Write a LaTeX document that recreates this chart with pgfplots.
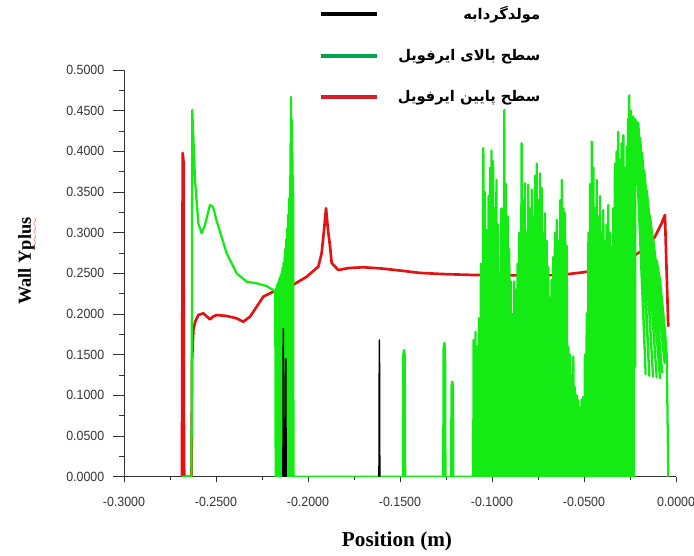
\documentclass[border=0pt]{standalone}
\usepackage{fontspec}
\usepackage{pgfplots}
\pgfplotsset{compat=1.18}
\TeXXeTstate=1
\newfontfamily\tickfont[FakeStretch=0.93]{Liberation Sans}
\newfontfamily\labelfont{Liberation Serif}
\newfontfamily\arabicfont[Script=Arabic]{DejaVu Sans}
\definecolor{plotgreen}{RGB}{20,235,20}
\definecolor{plotred}{RGB}{228,18,18}
\definecolor{leggreen}{RGB}{0,165,80}
\definecolor{legred}{RGB}{215,30,40}
% spell-checker style red wavy underline
\font\sixly=lasy6
\newcommand\redwave[1]{\leavevmode\begingroup\setbox0\hbox{#1}%
  \rlap{\textcolor{red}{\lower4.5pt\hbox to \wd0{\xleaders\hbox{\sixly\char58}\hfil}}}\box0\endgroup}
\begin{document}
\begin{tikzpicture}[x=0.75pt,y=0.75pt]
\begin{axis}[
  scale only axis, width=414pt, height=305pt,
  xmin=-0.3, xmax=0, ymin=0, ymax=0.5,
  axis lines*=left,
  axis line style={black!80, line width=0.6pt},
  tick align=outside,
  xtick={-0.3,-0.25,-0.2,-0.15,-0.1,-0.05,0},
  ytick={0,0.05,0.1,0.15,0.2,0.25,0.3,0.35,0.4,0.45,0.5},
  minor tick num=1,
  scaled ticks=false,
  xtick style={black!80, line width=0.6pt, /pgfplots/major tick length=4.3pt, /pgfplots/minor tick length=2.5pt},
  ytick style={black!80, line width=0.6pt, /pgfplots/major tick length=8pt, /pgfplots/minor tick length=3.5pt},
  ticklabel style={font=\tickfont\fontsize{10}{12}\selectfont, text=black!80,
    /pgf/number format/fixed, /pgf/number format/fixed zerofill,
    /pgf/number format/precision=4, /pgf/number format/assume math mode=true},
  xticklabel style={yshift=-7.5pt},
  yticklabel style={xshift=-7pt},
  xlabel={Position (m)},
  ylabel={Wall Y\redwave{plus}},
  xlabel style={font=\labelfont\bfseries\fontsize{15.9}{18}\selectfont,
    at={(axis description cs:0.4946,-0.158)}, anchor=center},
  ylabel style={font=\labelfont\bfseries\fontsize{13.8}{16}\selectfont,
    at={(axis description cs:-0.1748,0.530)}, anchor=center},
  legend style={at={(axis description cs:0.3533,1.165)}, anchor=north west,
    draw=none, fill=none, inner sep=0pt,
    font=\arabicfont\bfseries\fontsize{11}{13}\selectfont,
    row sep=17pt,
    /tikz/every odd column/.append style={column sep=12pt}},
  legend cell align=right,
  legend image code/.code={\draw[#1] (0pt,0pt) -- (42pt,0pt);},
  unbounded coords=jump,
]
\addlegendimage{black, line width=3pt}
\addlegendentry{\beginR مولدگردابه\endR}
\addlegendimage{leggreen, line width=3pt}
\addlegendentry{\beginR سطح بالای ایرفویل\endR}
\addlegendimage{legred, line width=3pt}
\addlegendentry{\beginR سطح پایین ایرفویل\endR}

% lower surface
\addplot[plotred, line width=2pt, line join=round, forget plot] coordinates {
(-0.2685,0) (-0.2681,0.398) (-0.2677,0.388) (-0.2674,0.02) (-0.2672,0)
(-0.2633,0) (-0.2630,0.1435) (-0.2623,0.180) (-0.2614,0.190) (-0.2596,0.1988)
(-0.2569,0.2009) (-0.2550,0.197) (-0.2533,0.1935) (-0.2515,0.197) (-0.2496,0.1988)
(-0.2442,0.1976) (-0.2388,0.1947) (-0.2352,0.1906) (-0.2315,0.1967) (-0.2279,0.2090)
(-0.2243,0.2213) (-0.2189,0.2274) (-0.2098,0.2336) (-0.2007,0.2459) (-0.1944,0.2582)
(-0.1926,0.2747) (-0.1912,0.305) (-0.1902,0.330) (-0.1892,0.305) (-0.1880,0.2828)
(-0.1871,0.2624) (-0.1835,0.2541) (-0.1780,0.2565) (-0.1700,0.2575) (-0.1600,0.2560)
(-0.1500,0.2535) (-0.1390,0.2505) (-0.1250,0.2490) (-0.1100,0.2480) (-0.0950,0.2475)
(-0.0800,0.2475) (-0.0630,0.2480) (-0.0522,0.2508) (-0.0485,0.2520) (-0.0359,0.2582)
(-0.0268,0.2664) (-0.0178,0.2787) (-0.0114,0.2951) (-0.0078,0.3115) (-0.0060,0.3217)
(-0.0042,0.1844)
};

% upper surface
\addplot[plotgreen, line width=1.7pt, line join=round, forget plot] coordinates {
(-0.2686,0) (-0.2633,0) (-0.2630,0.30) (-0.2629,0.451) (-0.2614,0.365) (-0.2596,0.3115)
(-0.2578,0.2992) (-0.2560,0.3094) (-0.2533,0.3340) (-0.2516,0.3316) (-0.2496,0.3143)
(-0.2442,0.2747) (-0.2388,0.2501) (-0.2333,0.2397) (-0.2279,0.2378) (-0.2225,0.2344)
(-0.2189,0.2295)
(-0.2178,0.228) (-0.21755,0) (-0.2173,0.232) (-0.21705,0) (-0.2168,0.236) (-0.21655,0)
(-0.2163,0.238) (-0.21605,0) (-0.2158,0.242) (-0.21555,0) (-0.2153,0.245) (-0.21505,0)
(-0.2148,0.248) (-0.21455,0) (-0.2143,0.252) (-0.21405,0) (-0.2138,0.257) (-0.21355,0)
(-0.2133,0.263) (-0.21305,0) (-0.2128,0.270) (-0.21255,0) (-0.2123,0.280) (-0.21205,0)
(-0.2118,0.292) (-0.21155,0) (-0.2113,0.305) (-0.21105,0) (-0.2108,0.322) (-0.21055,0)
(-0.2103,0.342) (-0.21005,0) (-0.2098,0.370) (-0.20965,0) (-0.2095,0.410) (-0.20935,0)
(-0.2092,0.467) (-0.20905,0) (-0.2089,0.440) (-0.20870,0) (-0.2085,0.400) (-0.20830,0)
(-0.2081,0.370) (-0.2079,0)
(-0.1484,0) (-0.1482,0.150) (-0.1478,0.1558) (-0.1474,0.150) (-0.1472,0)
(-0.1265,0) (-0.1263,0.158) (-0.1259,0.1644) (-0.1255,0.158) (-0.1253,0)
(-0.1222,0) (-0.1220,0.112) (-0.1216,0.1168) (-0.1212,0.112) (-0.1210,0)
(-0.1102,0)
(-0.1100,0.168) (-0.1095,0) (-0.1090,0.178) (-0.1085,0) (-0.1080,0.160) (-0.1075,0)
(-0.1070,0.195) (-0.1065,0) (-0.1060,0.262) (-0.1054,0) (-0.1047,0.404) (-0.1042,0)
(-0.1038,0.350) (-0.1033,0) (-0.1029,0.303) (-0.1024,0) (-0.1019,0.345) (-0.1014,0)
(-0.1010,0.380) (-0.1006,0) (-0.1003,0.401) (-0.0998,0) (-0.0994,0.388) (-0.0989,0)
(-0.0985,0.330) (-0.0980,0) (-0.0976,0.365) (-0.0971,0) (-0.0967,0.310) (-0.0962,0)
(-0.0958,0.250) (-0.0953,0) (-0.0949,0.330) (-0.0945,0) (-0.0941,0.300) (-0.0937,0)
(-0.0933,0.451) (-0.0928,0) (-0.0924,0.360) (-0.0919,0) (-0.0915,0.320) (-0.0910,0)
(-0.0906,0.280) (-0.0901,0) (-0.0897,0.240) (-0.0892,0) (-0.0888,0.200) (-0.0883,0)
(-0.0879,0.240) (-0.0874,0) (-0.0870,0.230) (-0.0865,0) (-0.0861,0.262) (-0.0856,0)
(-0.0852,0.300) (-0.0846,0) (-0.0839,0.410) (-0.0834,0) (-0.0830,0.340) (-0.0825,0)
(-0.0821,0.361) (-0.0816,0) (-0.0812,0.300) (-0.0807,0) (-0.0803,0.359) (-0.0798,0)
(-0.0794,0.330) (-0.0789,0) (-0.0784,0.353) (-0.0779,0) (-0.0775,0.320) (-0.0770,0)
(-0.0766,0.370) (-0.0761,0) (-0.0757,0.385) (-0.0752,0) (-0.0748,0.340) (-0.0743,0)
(-0.0739,0.373) (-0.0734,0) (-0.0730,0.355) (-0.0725,0) (-0.0721,0.300) (-0.0716,0)
(-0.0712,0.324) (-0.0707,0) (-0.0703,0.290) (-0.0698,0) (-0.0694,0.258) (-0.0689,0)
(-0.0685,0.220) (-0.0680,0) (-0.0676,0.242) (-0.0671,0) (-0.0667,0.270) (-0.0662,0)
(-0.0658,0.300) (-0.0653,0) (-0.0648,0.316) (-0.0643,0) (-0.0639,0.290) (-0.0634,0)
(-0.0630,0.340) (-0.0625,0) (-0.0621,0.365) (-0.0616,0) (-0.0612,0.330) (-0.0607,0)
(-0.0603,0.324) (-0.0598,0) (-0.0594,0.284) (-0.0589,0) (-0.0585,0.160) (-0.0580,0)
(-0.0576,0.150) (-0.0571,0) (-0.0567,0.125) (-0.0562,0) (-0.0558,0.148) (-0.0553,0)
(-0.0549,0.110) (-0.0544,0) (-0.0540,0.100) (-0.0535,0) (-0.0531,0.094) (-0.0526,0)
(-0.0522,0.085) (-0.0517,0) (-0.0513,0.095) (-0.0508,0) (-0.0504,0.098) (-0.0499,0)
(-0.0495,0.150) (-0.0490,0) (-0.0485,0.201) (-0.0480,0) (-0.0476,0.300) (-0.0471,0)
(-0.0467,0.360) (-0.0462,0) (-0.0458,0.412) (-0.0453,0) (-0.0449,0.380) (-0.0444,0)
(-0.0440,0.330) (-0.0435,0) (-0.0431,0.365) (-0.0426,0) (-0.0422,0.320) (-0.0417,0)
(-0.0413,0.345) (-0.0408,0) (-0.0404,0.300) (-0.0399,0) (-0.0395,0.328) (-0.0390,0)
(-0.0386,0.290) (-0.0381,0) (-0.0377,0.310) (-0.0372,0) (-0.0368,0.334) (-0.0363,0)
(-0.0359,0.300) (-0.0354,0) (-0.0350,0.283) (-0.0345,0) (-0.0341,0.330) (-0.0336,0)
(-0.0332,0.385) (-0.0327,0) (-0.0323,0.400) (-0.0318,0) (-0.0314,0.424) (-0.0309,0)
(-0.0305,0.390) (-0.0300,0) (-0.0296,0.410) (-0.0291,0) (-0.0286,0.420) (-0.0281,0)
(-0.0277,0.380) (-0.0272,0) (-0.0268,0.406) (-0.0264,0) (-0.0261,0.440) (-0.0257,0)
(-0.0254,0.469) (-0.0249,0) (-0.0245,0.450) (-0.0241,0) (-0.0238,0.420) (-0.0234,0)
(-0.0232,0.443) (-0.0229,0)
(-0.0226,0.440) (-0.0221,0.135) (-0.0222,0.440) (-0.0165,0.126) (-0.0215,0.437) (-0.0145,0.124)
(-0.0205,0.435) (-0.0125,0.123) (-0.0195,0.417) (-0.0105,0.122) (-0.0185,0.399) (-0.0087,0.121)
(-0.0172,0.376) (-0.0075,0.128) (-0.0159,0.352) (-0.0062,0.140) (-0.0141,0.321) (-0.0055,0.146)
(-0.0123,0.291) (-0.0050,0.148) (-0.0105,0.266) (-0.0087,0.242) (-0.0060,0.180) (-0.0050,0.148)
(-0.0042,0)
};

% vortex generator
\addplot[black, line width=1.2pt, line join=round, forget plot] coordinates {
(-0.2136,0) (-0.2134,0.182) (-0.2132,0) (-0.2123,0) (-0.2121,0.145) (-0.2119,0)
(-0.19,nan)
(-0.1614,0) (-0.1612,0.168) (-0.1610,0)
};
\coordinate (O) at (rel axis cs:0,0);
\end{axis}
\pgfresetboundingbox
\useasboundingbox ([shift={(-124,-79.3)}]O) rectangle ([shift={(570,476.7)}]O);
\end{tikzpicture}
\end{document}
